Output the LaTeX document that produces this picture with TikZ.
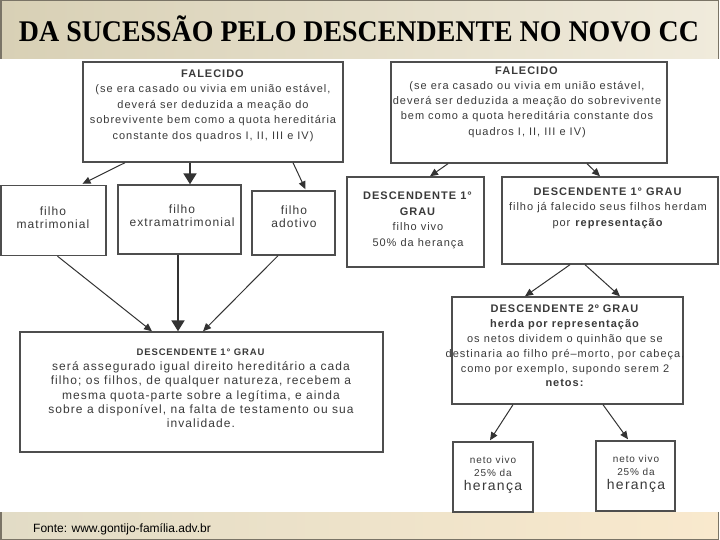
\documentclass[tikz,border=0pt]{standalone}
\usepackage{fontspec}
\setmainfont{Liberation Sans}
\newfontfamily\titlefont{Liberation Serif}
\newfontfamily\bx[LetterSpace=9]{Liberation Sans}
\usetikzlibrary{arrows.meta,calc}
\definecolor{barL}{HTML}{D8D0B5}
\definecolor{barR}{HTML}{F0EBDC}
\definecolor{botL}{HTML}{E2DCC6}
\definecolor{botR}{HTML}{F9E9CD}
\definecolor{edgec}{HTML}{7A7466}
\definecolor{boxc}{HTML}{4E4E4E}
\definecolor{txtc}{HTML}{3A3A3A}
\definecolor{arrc}{HTML}{333333}
\tikzset{
  box/.style={draw=boxc, line width=1.4pt, fill=white, inner sep=0pt},
  txt/.style={text=txtc, align=center, inner sep=0pt, anchor=north},
  arr/.style={draw=arrc, line width=1pt, -{Triangle[length=8pt,width=7pt]}},
  bigarr/.style={draw=arrc, line width=2pt, -{Triangle[length=11pt,width=13pt]}},
  sz11/.style={font=\bx\fontsize{11}{15.5}\selectfont},
}
\begin{document}
\begin{tikzpicture}[x=1pt,y=-1pt]
\useasboundingbox (0,0) rectangle (720,540);
\fill[white] (0,0) rectangle (720,540);
% title bar
\fill[left color=barL, right color=barR] (0,0) rectangle (719,59);
\draw[edgec, line width=1.5pt] (0.75,59) -- (0.75,0.75) -- (718.5,0.75) -- (718.5,59);
\node[anchor=base, inner sep=0pt, font=\titlefont\bfseries\fontsize{30}{32}\selectfont] (title) at (359,42)
  {\scalebox{0.93}[1]{DA SUCESSÃO PELO DESCENDENTE NO NOVO CC}};
% bottom bar
\fill[left color=botL, right color=botR] (0,512) rectangle (719,540);
\draw[edgec, line width=1.5pt] (0.75,512) -- (0.75,539.25) -- (718.5,539.25) -- (718.5,512);
\node[anchor=base west, inner sep=0pt, font=\fontsize{12}{14}\selectfont] (fonte) at (33,532.5)
  {Fonte: www.gontijo-família.adv.br};

% boxes
\node[box, minimum width=260pt, minimum height=100pt] (fal1) at (213,112) {};
\node[box, minimum width=276pt, minimum height=101pt] (fal2) at (529,112.5) {};
\node[box, minimum width=105pt, minimum height=70pt] (fm) at (53.5,220.5) {};
\node[box, minimum width=123pt, minimum height=69pt] (fe) at (179.5,219.5) {};
\node[box, minimum width=83pt, minimum height=64pt] (fa) at (293.5,223) {};
\node[box, minimum width=137pt, minimum height=90pt] (d1a) at (415.5,222) {};
\node[box, minimum width=216pt, minimum height=87pt] (d1b) at (610,220.5) {};
\node[box, minimum width=231pt, minimum height=107pt] (d2) at (567.5,350.5) {};
\node[box, minimum width=80pt, minimum height=70pt] (n1) at (493,477) {};
\node[box, minimum width=79pt, minimum height=70pt] (n2) at (635.5,476) {};
\node[box, minimum width=363pt, minimum height=120pt] (big) at (201.5,392) {};

% texts
\node[txt, sz11] (fal1t) at (213,69.5) {\textbf{FALECIDO}\\(se era casado ou vivia em união estável,\\deverá ser deduzida a meação do\\sobrevivente bem como a quota hereditária\\constante dos quadros I, II, III e IV)};
\node[txt, font=\bx\fontsize{11}{15.2}\selectfont] (fal2t) at (527,66.5) {\textbf{FALECIDO}\\(se era casado ou vivia em união estável,\\deverá ser deduzida a meação do sobrevivente\\bem como a quota hereditária constante dos\\quadros I, II, III e IV)};
\node[txt, font=\bx\fontsize{12}{13}\selectfont] (fmt) at (53,207) {filho\\matrimonial};
\node[txt, font=\bx\fontsize{12}{13}\selectfont] (fet) at (182,205) {filho\\extramatrimonial};
\node[txt, font=\bx\fontsize{12}{13}\selectfont] (fat) at (294,206) {filho\\adotivo};
\node[txt, font=\bx\fontsize{11}{15.7}\selectfont] (d1at) at (418,191.5) {\textbf{DESCENDENTE 1°}\\\textbf{GRAU}\\filho vivo\\50\% da herança};
\node[txt, sz11] (d1bt) at (608,187.5) {\textbf{DESCENDENTE 1° GRAU}\\filho já falecido seus filhos herdam\\por \textbf{representação}};
\node[txt, font=\bx\fontsize{11}{14.8}\selectfont] (d2t) at (565,305) {\textbf{DESCENDENTE 2º GRAU}\\\textbf{herda por representação}\\os netos dividem o quinhão que se\\destinaria ao filho pré–morto, por cabeça,\\como por exemplo, supondo serem 2\\\textbf{netos:}};
\node[txt, font=\bx\fontsize{10}{13.5}\selectfont] (n1t) at (493,456) {neto vivo\\25\% da\\{\fontsize{14}{15}\selectfont herança}};
\node[txt, font=\bx\fontsize{10}{13.5}\selectfont] (n2t) at (636,455) {neto vivo\\25\% da\\{\fontsize{14}{15}\selectfont herança}};
\node[txt, font=\bx\fontsize{12}{14.4}\selectfont] (bigt) at (201,349) {{\fontsize{9.5}{11}\selectfont\textbf{DESCENDENTE 1° GRAU}}\\será assegurado igual direito hereditário a cada\\filho; os filhos, de qualquer natureza, recebem a\\mesma quota-parte sobre a legítima, e ainda\\sobre a disponível, na falta de testamento ou sua\\invalidade.};

% connectors
\draw[arr] ($(fal1.south)+(-88,0)$) -- ($(fm.north)+(29,-1)$);
\draw[bigarr] ($(fal1.south)+(-23,0)$) -- ($(fe.north)+(10.5,0)$);
\draw[arr] ($(fal1.south)+(80,0)$) -- ($(fa.north)+(12,-1)$);
\draw[arr] ($(fal2.south)+(-81,0)$) -- ($(d1a.north)+(14.5,0)$);
\draw[arr] ($(fal2.south)+(58,0)$) -- ($(d1b.north)+(-10,0)$);
\draw[arr] ($(d1b.south)+(-40,0)$) -- ($(d2.north)+(-42.5,0)$);
\draw[arr] ($(d1b.south)+(-25,0)$) -- ($(d2.north)+(52.5,0)$);
\draw[arr] ($(d2.south)+(-54.5,0)$) -- ($(n1.north)+(-3,-1)$);
\draw[arr] ($(d2.south)+(35.5,0)$) -- ($(n2.north)+(-7.5,-1)$);
\draw[arr] ($(fm.south)+(4,0)$) -- ($(big.north)+(-49.5,0)$);
\draw[bigarr] ($(fe.south)+(-1.5,0)$) -- ($(big.north)+(-23.5,0)$);
\draw[arr] ($(fa.south)+(-15.5,0)$) -- ($(big.north)+(1.5,0)$);
\end{tikzpicture}
\end{document}
